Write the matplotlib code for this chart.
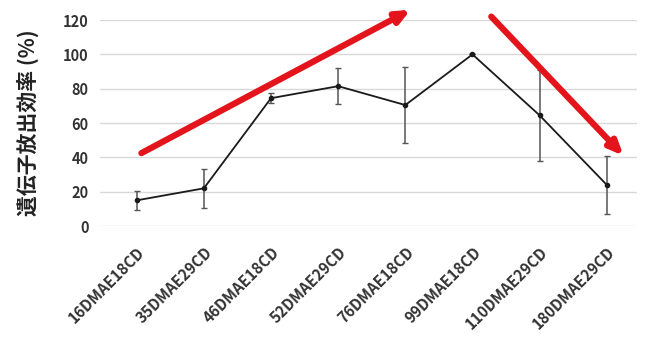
import matplotlib.pyplot as plt

plt.rcParams['font.family'] = ['Noto Sans CJK JP', 'DejaVu Sans']

labels = ['16DMAE18CD', '35DMAE29CD', '46DMAE18CD', '52DMAE29CD',
          '76DMAE18CD', '99DMAE18CD', '110DMAE29CD', '180DMAE29CD']
efficiency = [15, 22, 74.5, 81.5, 70.5, 100, 64.5, 24]
err = [5.5, 11.5, 3, 10.5, 22, 0, 26.5, 17]

fig = plt.figure(figsize=(6.52, 3.4), dpi=100)
ax = fig.add_axes([0.153, 0.335, 0.824, 0.606])

x = list(range(len(labels)))
ax.errorbar(x, efficiency, yerr=err, color='#1a1a1a', lw=1.3,
            ecolor='#555555', elinewidth=1.1, capsize=2,
            marker='o', markersize=3, zorder=3)

ax.set_xlim(-0.55, 7.45)
ax.set_ylim(0, 120)
ax.set_yticks(range(0, 121, 20))
ax.grid(axis='y', color='#d9d9d9', lw=1)
ax.set_axisbelow(True)
for s in ax.spines.values():
    s.set_visible(False)
ax.tick_params(axis='y', length=0, pad=8)
ax.tick_params(axis='x', length=0, pad=13)

ax.set_xticks(x)
ax.set_xticklabels(labels, rotation=45, ha='right', rotation_mode='anchor',
                   fontsize=11, fontweight='bold', color='#333333')
for t in ax.get_yticklabels():
    t.set_fontsize(10.5)
    t.set_fontweight('bold')
    t.set_color('#333333')
ax.set_ylabel('遺伝子放出効率 (%)', fontsize=15, fontweight='bold',
              color='#222222', labelpad=17)

# trend arrows
arrow = dict(arrowstyle='-|>,head_length=0.8,head_width=0.35', color='#e3141b',
             lw=4.5, shrinkA=0, shrinkB=0)
a1 = ax.annotate('', xy=(4.08, 126), xytext=(0.07, 42.5), arrowprops=arrow,
                 annotation_clip=False)
a2 = ax.annotate('', xy=(7.25, 41), xytext=(5.28, 122), arrowprops=arrow,
                 annotation_clip=False)
for a in (a1, a2):
    a.arrow_patch.set_clip_on(False)

fig.savefig('out.png', dpi=100)
